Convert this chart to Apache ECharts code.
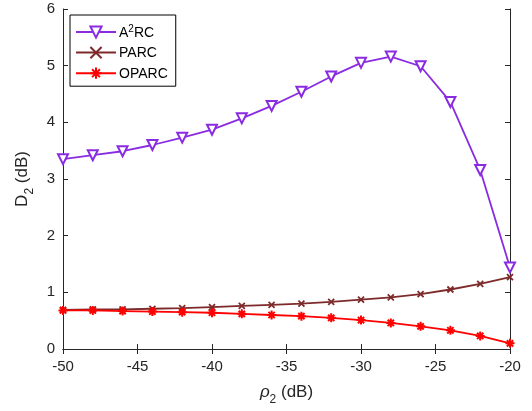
<!DOCTYPE html>
<html>
<head>
<meta charset="utf-8">
<script src="https://cdn.jsdelivr.net/npm/echarts@6/dist/echarts.min.js"></script>
<style>html,body{margin:0;padding:0;background:#fff;}#c{width:532px;height:411px;}</style>
</head>
<body>
<div id="c"></div>
<script>
var xValues = [-50, -48, -46, -44, -42, -40, -38, -36, -34, -32, -30, -28, -26, -24, -22, -20];
var a2rc = [3.35, 3.42, 3.49, 3.60, 3.73, 3.87, 4.07, 4.29, 4.54, 4.81, 5.05, 5.16, 4.99, 4.36, 3.16, 1.44];
var parc = [0.69, 0.70, 0.70, 0.71, 0.72, 0.74, 0.76, 0.78, 0.80, 0.83, 0.87, 0.91, 0.97, 1.05, 1.15, 1.27];
var oparc = [0.68, 0.68, 0.67, 0.66, 0.65, 0.64, 0.62, 0.60, 0.58, 0.55, 0.51, 0.46, 0.40, 0.33, 0.23, 0.10];
var seriesNames = ['A2RC', 'PARC', 'OPARC'];
var xTicks = { min: -50, max: -20, interval: 5 };
var yTicks = { min: 0, max: 6, interval: 1 };

function pairs(ys) { return xValues.map(function (x, i) { return [x, ys[i]]; }); }

var axisColor = '#262626';
var font = 'Liberation Sans, Arial, Helvetica, sans-serif';

var chart = echarts.init(document.getElementById('c'), null, { renderer: 'canvas' });
var commonAxisLine = { show: true, lineStyle: { color: axisColor, width: 1 } };
var option = {
  backgroundColor: '#fff',
  animation: false,
  grid: { left: 63, right: 22, top: 9, bottom: 61, containLabel: false },
  legend: {
    orient: 'vertical',
    left: 70,
    top: 15,
    padding: [9, 8, 5, 5],
    itemGap: 6,
    itemWidth: 40,
    itemHeight: 14,
    borderColor: '#000',
    borderWidth: 1,
    backgroundColor: '#fff',
    data: seriesNames,
    formatter: function (n) {
      if (n === 'A2RC') return '{t|A}{sup|2}{t|RC}';
      return '{t|' + n + '}';
    },
    textStyle: {
      color: '#000',
      fontFamily: font,
      fontSize: 14,
      padding: [0, 0, 0, -2],
      rich: {
        t: { fontSize: 14, fontFamily: font, color: '#000', verticalAlign: 'bottom', lineHeight: 16 },
        sup: { fontSize: 10, fontFamily: font, color: '#000', verticalAlign: 'top', lineHeight: 16, padding: [0, 0, 6, 0] }
      }
    }
  },
  xAxis: [{
    type: 'value',
    min: xTicks.min, max: xTicks.max, interval: xTicks.interval,
    position: 'bottom',
    axisLine: commonAxisLine,
    axisTick: { show: true, inside: true, length: 5, lineStyle: { color: axisColor } },
    axisLabel: { color: axisColor, fontSize: 15, fontFamily: font, margin: 10 },
    splitLine: { show: false },
    name: '{r|ρ}{s|2}{t| (dB)}',
    nameLocation: 'middle',
    nameGap: 35,
    nameTextStyle: {
      rich: {
        r: { fontSize: 17, fontFamily: font, fontStyle: 'italic', color: axisColor, lineHeight: 22, verticalAlign: 'top' },
        s: { fontSize: 12, fontFamily: font, color: axisColor, lineHeight: 22, verticalAlign: 'bottom', padding: [11, 0, 0, 0] },
        t: { fontSize: 17, fontFamily: font, color: axisColor, lineHeight: 22, verticalAlign: 'top' }
      }
    }
  }, {
    type: 'value',
    min: xTicks.min, max: xTicks.max, interval: xTicks.interval,
    position: 'top',
    axisLine: commonAxisLine,
    axisTick: { show: true, inside: true, length: 5, lineStyle: { color: axisColor } },
    axisLabel: { show: false },
    splitLine: { show: false }
  }],
  yAxis: [{
    type: 'value',
    min: yTicks.min, max: yTicks.max, interval: yTicks.interval,
    position: 'left',
    axisLine: commonAxisLine,
    axisTick: { show: true, inside: true, length: 5, lineStyle: { color: axisColor } },
    axisLabel: { color: axisColor, fontSize: 15, fontFamily: font, margin: 8 },
    splitLine: { show: false },
    name: '{t|D}{s|2}{t| (dB)}',
    nameLocation: 'middle',
    nameGap: 21,
    nameTextStyle: {
      rich: {
        s: { fontSize: 12, fontFamily: font, color: axisColor, lineHeight: 22, verticalAlign: 'bottom', padding: [11, 0, 0, 0] },
        t: { fontSize: 17, fontFamily: font, color: axisColor, lineHeight: 22, verticalAlign: 'top' }
      }
    }
  }, {
    type: 'value',
    min: yTicks.min, max: yTicks.max, interval: yTicks.interval,
    position: 'right',
    axisLine: commonAxisLine,
    axisTick: { show: true, inside: true, length: 5, lineStyle: { color: axisColor } },
    axisLabel: { show: false },
    splitLine: { show: false }
  }],
  series: [{
    name: seriesNames[0],
    type: 'line',
    data: pairs(a2rc),
    symbol: 'emptyTriangle',
    symbolRotate: 180,
    symbolSize: 10,
    color: '#8A2BE2',
    lineStyle: { width: 1.8, color: '#8A2BE2' },
    itemStyle: { color: '#8A2BE2', borderColor: '#8A2BE2', borderWidth: 1.6 }
  }, {
    name: seriesNames[1],
    type: 'line',
    data: pairs(parc),
    symbol: 'path://M0,0L10,10M10,0L0,10',
    symbolSize: 6,
    color: '#7E2A2A',
    lineStyle: { width: 1.8, color: '#7E2A2A' },
    itemStyle: { color: '#7E2A2A', borderColor: '#7E2A2A', borderWidth: 1.8 }
  }, {
    name: seriesNames[2],
    type: 'line',
    data: pairs(oparc),
    symbol: 'path://M5,0L5,10M0,5L10,5M1.5,1.5L8.5,8.5M8.5,1.5L1.5,8.5',
    symbolSize: 9,
    color: '#FF0000',
    lineStyle: { width: 1.8, color: '#FF0000' },
    itemStyle: { color: '#FF0000', borderColor: '#FF0000', borderWidth: 2 }
  }]
};
chart.setOption(option);
</script>
</body>
</html>
